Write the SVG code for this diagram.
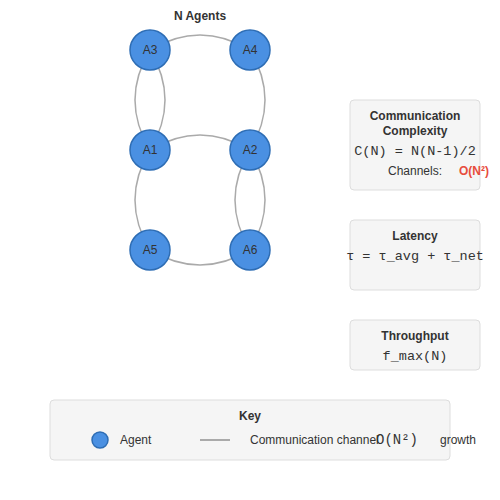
<svg xmlns="http://www.w3.org/2000/svg" width="500" height="500" viewBox="0 0 500 500">
<style>
.edge{fill:none;stroke:#aaaaaa;stroke-width:1.5}
.node{fill:#4a90e2;stroke:#2e6db4;stroke-width:1.5}
.nl{font-family:"Liberation Sans",Arial,sans-serif;font-size:12px;fill:#333333;text-anchor:middle}
.t{font-family:"Liberation Sans",Arial,sans-serif;font-size:12px;font-weight:bold;fill:#333333;text-anchor:middle}
.lab{font-family:"Liberation Sans",Arial,sans-serif;font-size:12px;fill:#333333}
.mono{font-family:"Liberation Mono","Courier New",monospace;font-size:13.5px;fill:#333333;text-anchor:middle}
.box{fill:#f5f5f5;stroke:#dddddd;stroke-width:1}
</style>
<rect width="500" height="500" fill="#ffffff"/>
<text class="t" x="200" y="20">N Agents</text>
<g id="connectors">
<path class="edge" d="M150,50 Q200,20 250,50"/>
<path class="edge" d="M150,50 Q120,100 150,150"/>
<path class="edge" d="M150,50 Q180,100 150,150"/>
<path class="edge" d="M250,50 Q280,100 250,150"/>
<path class="edge" d="M150,150 Q200,120 250,150"/>
<path class="edge" d="M150,150 Q120,200 150,250"/>
<path class="edge" d="M250,150 Q220,200 250,250"/>
<path class="edge" d="M250,150 Q280,200 250,250"/>
<path class="edge" d="M150,250 Q200,280 250,250"/>
</g>
<g id="A3"><circle class="node" cx="150" cy="50" r="20"/><text class="nl" x="150" y="54">A3</text></g>
<g id="A4"><circle class="node" cx="250" cy="50" r="20"/><text class="nl" x="250" y="54">A4</text></g>
<g id="A1"><circle class="node" cx="150" cy="150" r="20"/><text class="nl" x="150" y="154">A1</text></g>
<g id="A2"><circle class="node" cx="250" cy="150" r="20"/><text class="nl" x="250" y="154">A2</text></g>
<g id="A5"><circle class="node" cx="150" cy="250" r="20"/><text class="nl" x="150" y="254">A5</text></g>
<g id="A6"><circle class="node" cx="250" cy="250" r="20"/><text class="nl" x="250" y="254">A6</text></g>
<g id="complexity">
<rect class="box" x="350" y="100" width="130" height="90" rx="4"/>
<text class="t" x="415" y="120">Communication</text>
<text class="t" x="415" y="135">Complexity</text>
<text class="mono" x="415" y="155">C(N) = N(N-1)/2</text>
<text class="lab" x="415" y="175" text-anchor="middle">Channels:</text>
<text x="459" y="175" font-family="Liberation Sans,Arial,sans-serif" font-size="12" font-weight="bold" fill="#e74c3c">O(N²)</text>
</g>
<g id="latency">
<rect class="box" x="350" y="220" width="130" height="70" rx="4"/>
<text class="t" x="415" y="240">Latency</text>
<text class="mono" x="415" y="260">τ = τ_avg + τ_net</text>
</g>
<g id="throughput">
<rect class="box" x="350" y="320" width="130" height="50" rx="4"/>
<text class="t" x="415" y="340">Throughput</text>
<text class="mono" x="415" y="360">f_max(N)</text>
</g>
<g id="key">
<rect class="box" x="50" y="400" width="400" height="60" rx="4"/>
<text class="t" x="250" y="420">Key</text>
<circle class="node" cx="100" cy="440" r="8"/>
<text class="lab" x="120" y="444">Agent</text>
<line x1="200" y1="440" x2="230" y2="440" stroke="#aaaaaa" stroke-width="2"/>
<text class="lab" x="250" y="444">Communication channel</text>
<text x="376" y="444" font-family="Liberation Mono,Courier New,monospace" font-size="14" fill="#333333">O(N²)</text>
<text class="lab" x="440" y="444">growth</text>
</g>
</svg>
